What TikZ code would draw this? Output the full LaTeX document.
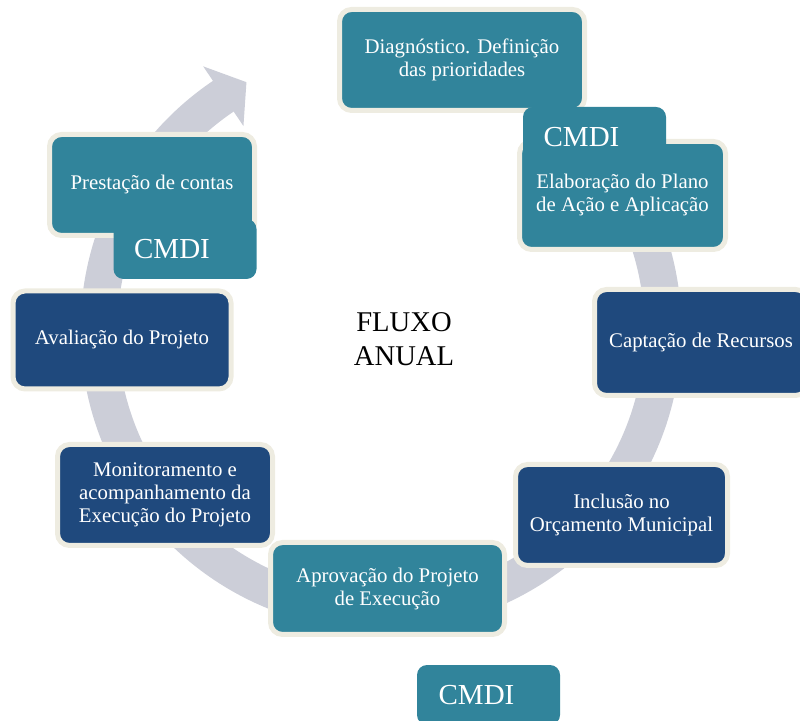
\documentclass[tikz,border=0pt]{standalone}
\usepackage{fontspec}
\setmainfont{Liberation Serif}
\definecolor{cyclteal}{RGB}{49,132,155}
\definecolor{cyclnavy}{RGB}{31,73,125}
\definecolor{cyclcream}{RGB}{238,236,225}
\definecolor{cyclring}{RGB}{204,206,216}
\begin{document}
\begin{tikzpicture}[x=1pt,y=1pt,
    stepbox/.style={rectangle, rounded corners=12pt, draw=cyclcream, line width=5pt,
      text=white, align=center, inner sep=0pt, font=\fontsize{20.8}{23}\selectfont},
    lightstep/.style={stepbox, fill=cyclteal},
    darkstep/.style={stepbox, fill=cyclnavy},
    tag/.style={rectangle, rounded corners=10pt, fill=cyclteal, minimum width=143pt, minimum height=60pt},
    tagtext/.style={text=white, inner sep=0pt, font=\fontsize{29}{30}\selectfont}]
    \useasboundingbox (0,0) rectangle (800,720);

    % cycle arrow
    \coordinate (hub) at (381,390);
    \draw[cyclring, line width=37pt] (hub) ++(92:282) arc[start angle=92, end angle=-237, radius=282];
    \fill[cyclring, shift={(hub)}] (124:318) -- (118.5:282) -- (124:246) -- cycle;

    \node[font=\fontsize{28.6}{34}\selectfont, align=center] (fluxo) at (404,381) {FLUXO\\ANUAL};

    % steps
    \node[lightstep, minimum width=245pt, minimum height=101pt] (diag) at (462,660) {Diagn\'ostico. Defini\c{c}\~ao\\das prioridades};
    \node[lightstep, minimum width=206pt, minimum height=108pt] (elab) at (622.5,524.5) {Elabora\c{c}\~ao do Plano\\de A\c{c}\~ao e Aplica\c{c}\~ao};
    \node[darkstep, minimum width=213pt, minimum height=106pt] (capt) at (701,377.5) {Capta\c{c}\~ao de Recursos};
    \node[darkstep, minimum width=212pt, minimum height=101pt] (incl) at (621.5,205) {Inclus\~ao no\\Or\c{c}amento Municipal};
    \node[lightstep, minimum width=234pt, minimum height=92pt] (aprov) at (387.5,131.5) {Aprova\c{c}\~ao do Projeto\\de Execu\c{c}\~ao};
    \node[darkstep, minimum width=215pt, minimum height=101pt] (monit) at (165,225) {Monitoramento e\\acompanhamento da\\Execu\c{c}\~ao do Projeto};
    \node[darkstep, minimum width=218pt, minimum height=98pt] (aval) at (122,380) {Avalia\c{c}\~ao do Projeto};
    \node[lightstep, minimum width=205pt, minimum height=101pt] (prest) at (152,535) {Presta\c{c}\~ao de contas};

    % CMDI tags
    \node[tag] (tagelab) at (594.5,583) {};
    \node[tagtext] (cmdielab) at ([xshift=-13pt]tagelab.center) {CMDI};
    \node[tag] (tagprest) at (185,471) {};
    \node[tagtext] (cmdiprest) at ([xshift=-13pt]tagprest.center) {CMDI};
    \node[tag] (tagaprov) at (488.5,25) {};
    \node[tagtext] (cmdiaprov) at ([xshift=-12pt]tagaprov.center) {CMDI};
\end{tikzpicture}
\end{document}
